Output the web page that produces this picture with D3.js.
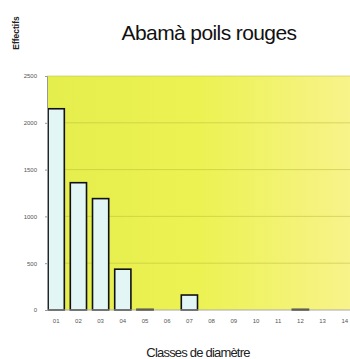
<!DOCTYPE html>
<html>
<head>
<meta charset="utf-8">
<style>
    body { margin: 0; padding: 0; background: #fff; overflow: hidden; }
    text { font-family: "Liberation Sans", Arial, sans-serif; }
    .tick text { font-size: 6px; fill: #555; }
</style>
</head>
<body>
<div id="chart"></div>
<script src="https://d3js.org/d3.v7.min.js"></script>
<script>
var classes = ["01", "02", "03", "04", "05", "06", "07", "08", "09", "10", "11", "12", "13", "14"];
var effectifs = [2150, 1360, 1190, 436, 6, 0, 160, 0, 0, 0, 0, 6, 0, 0];
var yTicks = [0, 500, 1000, 1500, 2000, 2500];

var width = 350, height = 359;
var margin = { top: 76, right: 0, bottom: 49, left: 47 };

var svg = d3.select("#chart").append("svg")
    .attr("width", width)
    .attr("height", height);

var defs = svg.append("defs");
var grad = defs.append("linearGradient").attr("id", "bg")
    .attr("x1", "0%").attr("y1", "0%").attr("x2", "100%").attr("y2", "0%");
grad.append("stop").attr("offset", "0%").attr("stop-color", "#e4ee4c");
grad.append("stop").attr("offset", "50%").attr("stop-color", "#ecf252");
grad.append("stop").attr("offset", "100%").attr("stop-color", "#f8f38a");

var x = d3.scaleBand()
    .domain(classes)
    .range([margin.left, width - margin.right + 4])
    .paddingInner(0.27)
    .paddingOuter(0.05);

var y = d3.scaleLinear()
    .domain([0, 2500])
    .range([height - margin.bottom, margin.top]);

// plot area
svg.append("rect")
    .attr("x", margin.left)
    .attr("y", y(2500))
    .attr("width", width - margin.left)
    .attr("height", y(0) - y(2500))
    .attr("fill", "url(#bg)");

// grid lines
svg.append("g")
    .selectAll("line")
    .data(yTicks.slice(1))
    .enter().append("line")
    .attr("x1", margin.left)
    .attr("x2", width)
    .attr("y1", d => y(d))
    .attr("y2", d => y(d))
    .attr("stroke", "#b8bc3a")
    .attr("stroke-opacity", 0.5)
    .attr("stroke-width", 1);

// bars
svg.append("g")
    .selectAll("rect")
    .data(classes)
    .enter().append("rect")
    .attr("x", (d, i) => x(d))
    .attr("y", (d, i) => y(effectifs[i]))
    .attr("width", x.bandwidth())
    .attr("height", (d, i) => y(0) - y(effectifs[i]))
    .attr("fill", "#e2f6f6")
    .attr("stroke", "#111")
    .attr("stroke-width", (d, i) => effectifs[i] > 0 ? 1.6 : 0);

// axes
var yAxis = svg.append("g")
    .attr("transform", "translate(" + margin.left + ",0)")
    .call(d3.axisLeft(y).tickValues(yTicks).tickFormat(d3.format("d")).tickSize(2).tickPadding(8));
yAxis.select(".domain").attr("stroke", "#999");
yAxis.selectAll(".tick line").attr("stroke", "#999");

var xAxis = svg.append("g")
    .attr("transform", "translate(0," + y(0) + ")")
    .call(d3.axisBottom(x).tickSize(0).tickPadding(9));
xAxis.select(".domain").attr("stroke", "#aaa").attr("d", "M" + margin.left + ",0H" + width);

// titles
svg.append("text")
    .attr("x", 209)
    .attr("y", 40)
    .attr("text-anchor", "middle")
    .attr("font-size", "21px")
    .attr("letter-spacing", "-0.6px")
    .attr("fill", "#111")
    .text("Abamà poils rouges");

svg.append("text")
    .attr("transform", "translate(19,33) rotate(-90)")
    .attr("text-anchor", "middle")
    .attr("font-size", "8.5px")
    .attr("font-weight", "bold")
    .attr("fill", "#222")
    .text("Effectifs");

svg.append("text")
    .attr("x", 198)
    .attr("y", 357)
    .attr("text-anchor", "middle")
    .attr("font-size", "13px")
    .attr("letter-spacing", "-0.8px")
    .attr("fill", "#222")
    .text("Classes de diamètre");
</script>
</body>
</html>
